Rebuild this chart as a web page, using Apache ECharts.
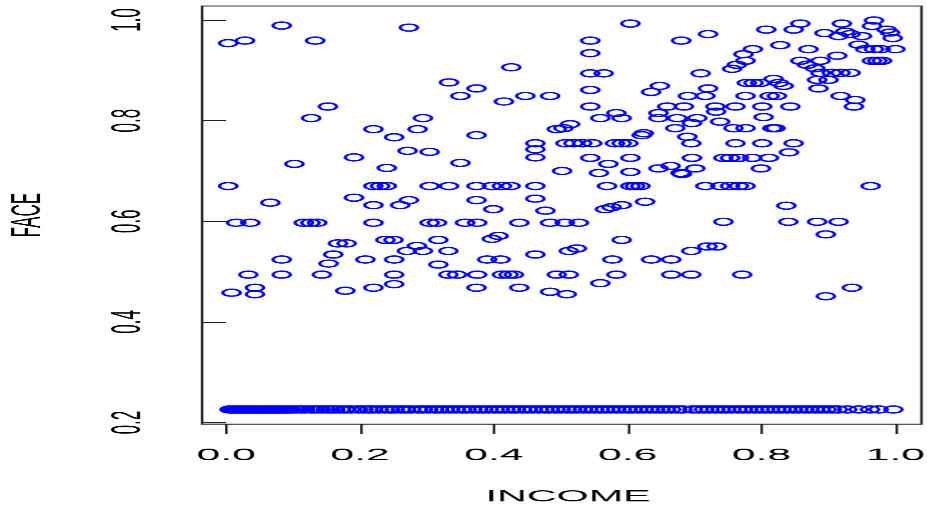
<!DOCTYPE html>
<html>
<head>
<meta charset="utf-8">
<script src="https://cdn.jsdelivr.net/npm/echarts@6/dist/echarts.min.js"></script>
<style>
  html, body { margin: 0; padding: 0; background: #fff; overflow: hidden; }
  #wrap { position: absolute; left: 0; top: 0; height: 511px; transform-origin: 0 0; }
</style>
</head>
<body>
<div id="wrap"></div>
<script>
// INCOME vs FACE scatter (open circles)

// Tick positions of both axes
const incomeTicks = [0.0, 0.2, 0.4, 0.6, 0.8, 1.0];
const faceTicks = [0.2, 0.4, 0.6, 0.8, 1.0];

// Observations with a positive FACE value: [INCOME, FACE]
const facePoints = [
  [0.003,0.954],[0.028,0.959],[0.083,0.989],[0.133,0.959],[0.273,0.985],
  [0.426,0.906],[0.333,0.876],[0.374,0.864],[0.350,0.849],[0.415,0.838],[0.447,0.849],[0.484,0.849],
  [0.152,0.828],[0.127,0.805],[0.294,0.805],[0.220,0.783],[0.286,0.783],[0.251,0.767],[0.374,0.771],[0.494,0.783],
  [0.462,0.755],[0.462,0.743],[0.462,0.727],[0.271,0.740],[0.304,0.738],[0.191,0.727],[0.102,0.714],[0.350,0.716],[0.240,0.706],[0.502,0.700],
  [0.003,0.670],[0.220,0.670],[0.230,0.670],[0.240,0.670],[0.304,0.670],[0.333,0.670],[0.374,0.670],[0.397,0.670],[0.412,0.670],[0.425,0.670],[0.462,0.670],
  [0.191,0.647],[0.066,0.637],[0.273,0.642],[0.220,0.632],[0.260,0.632],[0.374,0.642],[0.399,0.624],[0.462,0.645],[0.477,0.621],
  [0.015,0.597],[0.036,0.597],[0.116,0.597],[0.126,0.597],[0.136,0.597],[0.220,0.597],[0.304,0.597],[0.315,0.597],[0.357,0.597],[0.375,0.597],[0.438,0.597],[0.484,0.597],[0.506,0.597],[0.527,0.597],
  [0.167,0.556],[0.180,0.556],[0.238,0.563],[0.250,0.563],[0.285,0.551],[0.317,0.563],[0.397,0.565],[0.407,0.571],[0.270,0.541],[0.294,0.541],[0.332,0.541],[0.160,0.534],[0.462,0.534],
  [0.083,0.524],[0.153,0.516],[0.208,0.524],[0.251,0.524],[0.317,0.514],[0.390,0.524],[0.410,0.524],
  [0.033,0.494],[0.083,0.494],[0.143,0.494],[0.251,0.494],[0.332,0.494],[0.345,0.494],[0.375,0.494],[0.412,0.494],[0.422,0.494],[0.430,0.494],[0.494,0.494],[0.512,0.494],
  [0.043,0.468],[0.043,0.455],[0.008,0.458],[0.178,0.462],[0.220,0.468],[0.251,0.475],[0.374,0.468],[0.438,0.468],[0.484,0.460],[0.509,0.455],
  [0.604,0.993],[0.544,0.959],[0.544,0.934],[0.680,0.959],[0.720,0.972],[0.544,0.894],[0.564,0.894],[0.709,0.894],[0.544,0.861],[0.635,0.857],[0.648,0.869],[0.720,0.864],
  [0.544,0.828],[0.583,0.815],[0.559,0.805],[0.591,0.805],[0.646,0.815],[0.659,0.828],[0.646,0.805],[0.674,0.805],[0.684,0.828],[0.690,0.849],[0.716,0.849],[0.704,0.805],[0.696,0.795],
  [0.731,0.828],[0.732,0.818],[0.761,0.828],[0.738,0.798],[0.776,0.849],[0.801,0.828],[0.803,0.807],[0.812,0.849],[0.823,0.849],
  [0.818,0.883],[0.826,0.875],[0.833,0.869],[0.778,0.875],[0.788,0.875],[0.798,0.875],[0.843,0.828],
  [0.787,0.942],[0.773,0.932],[0.776,0.919],[0.763,0.911],[0.756,0.903],[0.807,0.981],[0.828,0.950],[0.848,0.981],[0.858,0.993],
  [0.858,0.919],[0.868,0.911],[0.880,0.904],[0.888,0.919],[0.870,0.942],[0.913,0.929],[0.894,0.974],[0.915,0.968],[0.925,0.977],[0.933,0.972],[0.920,0.993],
  [0.950,0.968],[0.968,0.999],[0.965,0.988],[0.987,0.981],[0.992,0.975],[0.996,0.964],[0.945,0.951],[0.955,0.942],[0.968,0.942],[0.978,0.942],[1.000,0.942],
  [0.965,0.919],[0.973,0.919],[0.980,0.919],
  [0.888,0.895],[0.905,0.895],[0.918,0.895],[0.933,0.895],[0.883,0.881],[0.900,0.881],[0.885,0.864],[0.918,0.849],[0.940,0.841],[0.938,0.828],
  [0.514,0.793],[0.504,0.785],[0.671,0.785],[0.624,0.775],[0.621,0.771],[0.689,0.768],[0.695,0.755],
  [0.507,0.755],[0.519,0.755],[0.532,0.755],[0.547,0.755],[0.581,0.755],[0.591,0.755],[0.601,0.755],[0.761,0.755],
  [0.758,0.785],[0.776,0.785],[0.816,0.785],[0.821,0.785],[0.801,0.755],[0.848,0.755],[0.841,0.737],[0.786,0.726],[0.811,0.726],
  [0.544,0.726],[0.571,0.714],[0.604,0.726],[0.696,0.726],[0.743,0.726],[0.753,0.726],[0.766,0.726],[0.557,0.696],[0.604,0.698],
  [0.646,0.705],[0.664,0.710],[0.679,0.696],[0.681,0.694],[0.701,0.705],[0.799,0.705],
  [0.569,0.670],[0.604,0.670],[0.611,0.670],[0.619,0.670],[0.716,0.670],[0.738,0.670],[0.753,0.670],[0.766,0.670],[0.776,0.670],[0.963,0.670],
  [0.566,0.624],[0.576,0.628],[0.591,0.632],[0.626,0.639],[0.837,0.631],
  [0.743,0.599],[0.840,0.599],[0.883,0.599],[0.915,0.599],[0.896,0.574],[0.591,0.563],[0.512,0.541],[0.524,0.546],
  [0.695,0.541],[0.719,0.550],[0.733,0.550],[0.577,0.524],[0.635,0.524],[0.665,0.524],
  [0.583,0.494],[0.665,0.494],[0.695,0.494],[0.771,0.494],[0.559,0.477],[0.896,0.451],[0.935,0.468]
];

// Observations sitting on the FACE floor value
const floorFace = 0.226;
const floorIncome = [
  0.005,0.009,0.012,0.016,0.018,0.022,0.025,0.027,0.031,0.034,0.038,0.041,0.043,0.047,0.050,
  0.054,0.057,0.060,0.062,0.066,0.069,0.073,0.076,0.078,0.082,0.086,0.089,0.093,0.097,
  0.104,0.112,0.118,0.127,0.133,0.141,0.149,0.156,0.163,0.171,0.178,0.186,0.197,0.205,0.213,
  0.219,0.228,0.237,0.245,0.252,0.261,0.268,0.276,0.287,0.294,0.302,0.311,0.318,0.326,0.335,
  0.343,0.352,0.359,0.368,0.377,0.384,0.392,0.401,0.409,0.417,0.426,0.433,0.442,0.450,0.458,
  0.467,0.476,0.483,0.492,0.500,0.509,0.517,0.524,0.533,0.541,0.550,0.558,0.566,0.574,0.583,
  0.591,0.600,0.607,0.616,0.624,0.633,0.641,0.649,0.657,0.665,0.674,0.682,0.697,0.706,0.714,
  0.722,0.731,0.739,0.747,0.755,0.764,0.772,0.780,0.789,0.797,0.805,0.813,0.822,0.830,0.838,
  0.847,0.855,0.864,0.871,0.880,0.888,0.897,0.905,0.914,0.928,0.945,0.962,0.975,0.997
];

// The plot is drawn narrow and stretched horizontally
const stretch = 2.5;
const baseW = 927 / stretch;
const wrap = document.getElementById('wrap');
wrap.style.width = baseW + 'px';
wrap.style.transform = 'scaleX(' + stretch + ')';

const chart = echarts.init(wrap, null, {
  renderer: 'canvas', devicePixelRatio: stretch, width: baseW, height: 511
});

const seriesData = facePoints.map(p => [p[0], p[1]])
  .concat(floorIncome.map(x => [x, floorFace]));

const tickFont = { fontFamily: 'Liberation Sans, Arial, sans-serif', fontSize: 17, color: '#000' };
const nameFont = { fontFamily: 'Liberation Sans, Arial, sans-serif', fontSize: 16.5, color: '#000' };

chart.setOption({
  animation: false,
  backgroundColor: '#fff',
  grid: {
    left: 202 / stretch, right: 6 / stretch, top: 6, bottom: 87,
    containLabel: false, outerBoundsMode: 'none',
    show: true, borderColor: '#222', borderWidth: 1, backgroundColor: 'transparent'
  },
  xAxis: {
    type: 'value', min: -0.036, max: 1.039,
    name: 'INCOME', nameLocation: 'middle', nameGap: 64,
    nameTextStyle: Object.assign({}, nameFont, { padding: [0, 0, 0, 5] }),
    axisLine: { show: false },
    splitLine: { show: false },
    axisTick: { show: true, customValues: incomeTicks, length: 10, lineStyle: { color: '#222', width: 1 } },
    axisLabel: Object.assign({ customValues: incomeTicks, margin: 23, formatter: v => v.toFixed(1) }, tickFont)
  },
  yAxis: {
    type: 'value', min: 0.1968, max: 1.0278,
    name: 'FACE', nameLocation: 'middle', nameGap: 61, nameRotate: 90,
    nameTextStyle: Object.assign({}, nameFont, { fontSize: 17 }),
    axisLine: { show: false },
    splitLine: { show: false },
    axisTick: { show: true, customValues: faceTicks, length: 10, lineStyle: { color: '#222', width: 1 } },
    axisLabel: Object.assign({ customValues: faceTicks, margin: 21, rotate: 90, formatter: v => v.toFixed(1) }, tickFont)
  },
  series: [{
    type: 'scatter',
    data: seriesData,
    symbol: 'circle',
    symbolSize: 7,
    silent: true,
    itemStyle: { color: 'rgba(0,0,0,0)', borderColor: '#0000ff', borderWidth: 1.35, opacity: 1 },
    emphasis: { disabled: true }
  }]
});
</script>
</body>
</html>
